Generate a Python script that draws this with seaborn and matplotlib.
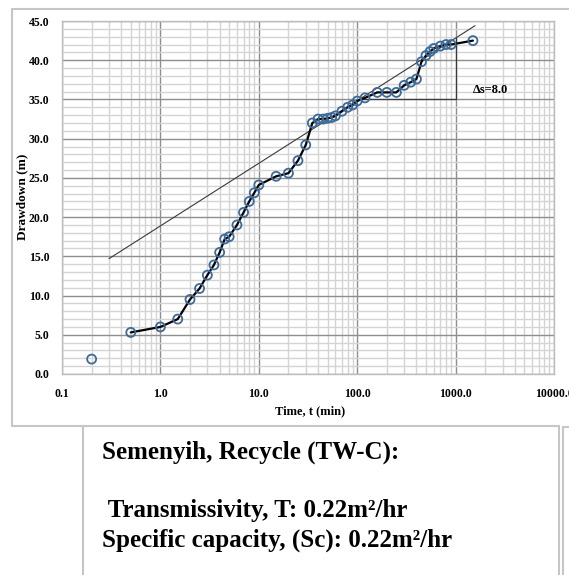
import numpy as np
import pandas as pd
import matplotlib
matplotlib.use("Agg")
import matplotlib.pyplot as plt
import seaborn as sns
from matplotlib.ticker import FixedLocator, MultipleLocator, NullFormatter
from matplotlib.lines import Line2D

# ---- data ----
early_t = [0.2]
early_s = [1.9]
time_min = [0.5, 1.0, 1.5, 2.0, 2.5, 3.0, 3.5, 4.0, 4.5, 5.0, 6.0, 7.0, 8.0, 9.0, 10.0,
            15.0, 20.0, 25.0, 30.0, 35.0, 40.0, 45.0, 50.0, 55.0, 60.0, 70.0, 80.0, 90.0,
            100.0, 120.0, 160.0, 200.0, 250.0, 300.0, 350.0, 400.0, 450.0, 500.0, 550.0,
            600.0, 700.0, 800.0, 900.0, 1500.0]
drawdown_m = [5.3, 6.0, 7.0, 9.5, 10.9, 12.6, 13.9, 15.5, 17.2, 17.5, 19.0, 20.6, 22.0, 23.1, 24.1,
              25.2, 25.6, 27.2, 29.2, 32.0, 32.5, 32.5, 32.6, 32.7, 32.9, 33.5, 34.0, 34.3,
              34.8, 35.2, 35.9, 35.9, 35.9, 36.8, 37.2, 37.6, 39.8, 40.6, 41.1,
              41.5, 41.8, 42.0, 42.0, 42.5]
trend_t = [0.3, 1575.0]
trend_s = [14.7, 44.4]
delta_t = [105.0, 1000.0, 1000.0]
delta_s = [35.0, 35.0, 42.8]
delta_label = "\u0394s=8.0"
x_ticks = [0.1, 1.0, 10.0, 100.0, 1000.0, 10000.0]
x_ticklabels = ["0.1", "1.0", "10.0", "100.0", "1000.0", "10000.0"]
y_ticks = [0, 5, 10, 15, 20, 25, 30, 35, 40, 45]
y_ticklabels = ["0.0", "5.0", "10.0", "15.0", "20.0", "25.0", "30.0", "35.0", "40.0", "45.0"]
x_label = "Time, t (min)"
y_label = "Drawdown (m)"
info_title = "Semenyih, Recycle (TW-C):"
info_T = " Transmissivity, T: 0.22m\u00b2/hr"
info_Sc = "Specific capacity, (Sc): 0.22m\u00b2/hr"

main_df = pd.DataFrame({"t": time_min, "s": drawdown_m})
early_df = pd.DataFrame({"t": early_t, "s": early_s})
trend_df = pd.DataFrame({"t": trend_t, "s": trend_s})
delta_df = pd.DataFrame({"t": delta_t, "s": delta_s})

sns.set_style("white")
plt.rcParams["font.family"] = ["Liberation Serif", "DejaVu Serif"]
plt.rcParams["font.weight"] = "bold"
plt.rcParams["text.color"] = "black"
plt.rcParams["xtick.color"] = "black"
plt.rcParams["ytick.color"] = "black"

W, H = 569, 575
fig = plt.figure(figsize=(W / 100, H / 100), dpi=100)
fig.patch.set_facecolor("white")

L, R, T, B = 62, 554, 21, 374
ax = fig.add_axes([L / W, 1 - B / H, (R - L) / W, (B - T) / H])
ax.set_xscale("log")
ax.set_xlim(0.1, 10000)
ax.set_ylim(0, 45)

# grid
minor_x = [m * 10.0 ** e for e in range(-1, 4) for m in range(2, 10)]
ax.xaxis.set_major_locator(FixedLocator(x_ticks))
ax.xaxis.set_minor_locator(FixedLocator(minor_x))
ax.xaxis.set_minor_formatter(NullFormatter())
ax.set_xticklabels(x_ticklabels)
ax.yaxis.set_major_locator(FixedLocator(y_ticks))
ax.yaxis.set_minor_locator(MultipleLocator(1))
ax.set_yticklabels(y_ticklabels)
ax.grid(which="minor", color="#d4d4d4", lw=1.0, zorder=0)
ax.grid(which="major", color="#8e8e8e", lw=1.0, zorder=0)
ax.set_axisbelow(True)
ax.tick_params(which="both", length=0)
ax.tick_params(axis="y", pad=9, labelsize=8.5, labelcolor="black")
ax.tick_params(axis="x", pad=10, labelsize=8.5, labelcolor="black")
for lab in ax.get_xticklabels() + ax.get_yticklabels():
    lab.set_fontweight("bold")
for sp in ax.spines.values():
    sp.set_color("#bdbdbd")
    sp.set_linewidth(1.0)

# trend line & delta triangle
sns.lineplot(data=trend_df, x="t", y="s", sort=False, estimator=None, ax=ax,
             color="#3a3a3a", lw=0.8, zorder=3)
sns.lineplot(data=delta_df, x="t", y="s", sort=False, estimator=None, ax=ax,
             color="#3a3a3a", lw=0.9, zorder=3)

# data
sns.lineplot(data=main_df, x="t", y="s", sort=False, estimator=None, ax=ax,
             color="black", lw=1.6, zorder=4)
sns.scatterplot(data=main_df, x="t", y="s", ax=ax, s=42, facecolor="none",
                edgecolor="#3d6a98", linewidth=1.3, zorder=5)
sns.scatterplot(data=early_df, x="t", y="s", ax=ax, s=42, facecolor="none",
                edgecolor="#3d6a98", linewidth=1.3, zorder=5)

ax.text(1500, 36.2, delta_label, fontsize=9, fontweight="bold", va="center", ha="left",
        color="black")
ax.set_xlabel("")
ax.set_ylabel("")

fig.text(310 / W, 1 - 411 / H, x_label, fontsize=9, fontweight="bold", ha="center", va="center")
fig.text(22 / W, 1 - 197 / H, y_label, fontsize=9.5, fontweight="bold", rotation=90,
         ha="center", va="center")

# frames
def fline(x0, y0, x1, y1):
    fig.add_artist(Line2D([x0 / W, x1 / W], [1 - y0 / H, 1 - y1 / H], color="#c6c6c6", lw=1.5))

fline(12, 9, 569, 9)
fline(12, 9, 12, 426)
fline(12, 426, 83, 426)
fline(83, 426, 559, 426)
fline(83, 426, 83, 575)
fline(559, 426, 559, 575)
fline(563, 427, 569, 427)
fline(563, 427, 563, 575)

fig.text(102 / W, 1 - 459 / H, info_title, fontsize=18, fontweight="bold", va="baseline", ha="left")
fig.text(102 / W, 1 - 517 / H, info_T, fontsize=18, fontweight="bold", va="baseline", ha="left")
fig.text(102 / W, 1 - 547 / H, info_Sc, fontsize=18, fontweight="bold", va="baseline", ha="left")

fig.savefig("out.png", dpi=100)
